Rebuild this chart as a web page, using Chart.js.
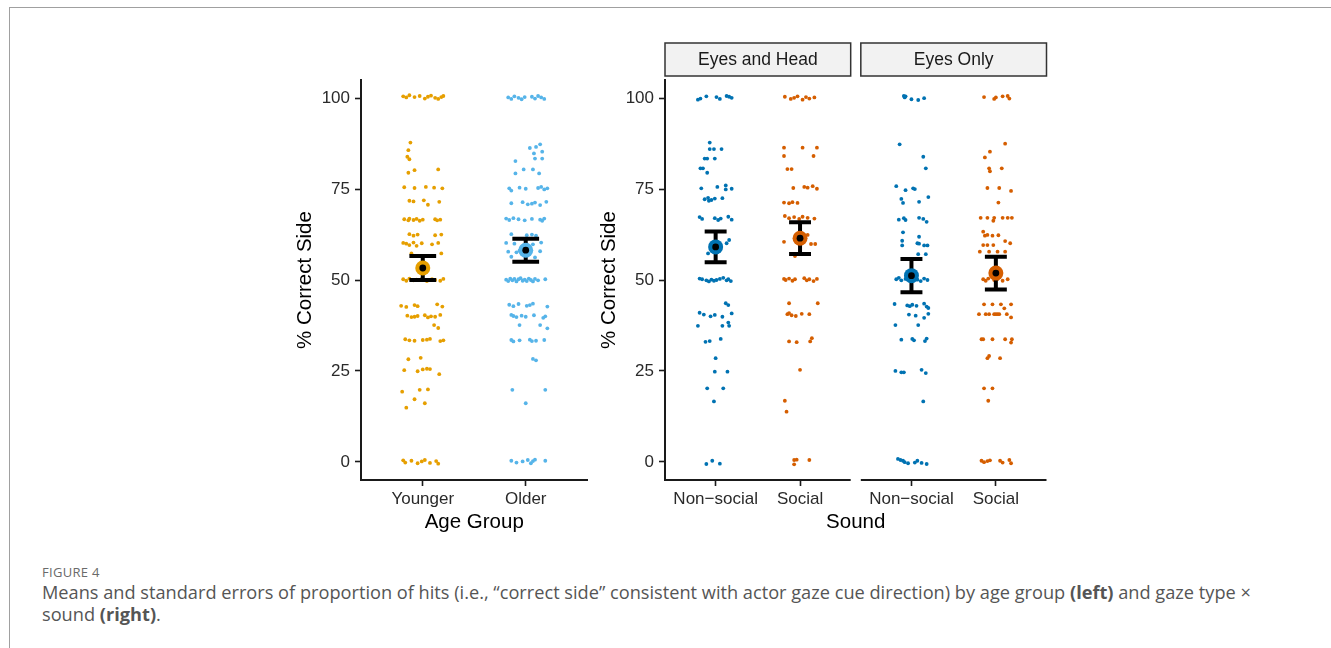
<!DOCTYPE html>
<html>
<head>
<meta charset="utf-8">
<script src="https://cdn.jsdelivr.net/npm/chart.js@4/dist/chart.umd.min.js"></script>
<style>
html,body{margin:0;padding:0;background:#fff;}
body{width:1331px;height:648px;overflow:hidden;position:relative;}
#frame{position:absolute;left:9px;top:7px;width:1400px;height:700px;border-left:1.5px solid #a0a0a0;border-top:1.5px solid #a0a0a0;}
#c1{position:absolute;left:280px;top:60px;}
#c2{position:absolute;left:584px;top:30px;}
#figlabel{position:absolute;left:42px;top:563px;font-family:'Open Sans','Noto Sans',sans-serif;font-size:13px;color:#6a6a6a;letter-spacing:0.3px;}
#caption{position:absolute;left:42px;top:581px;font-family:'Open Sans','Noto Sans',sans-serif;font-size:18.2px;line-height:22px;color:#555;white-space:nowrap;}
#caption b{color:#555;font-weight:700;}
</style>
</head>
<body>
<div id="frame"></div>
<canvas id="c1" width="315" height="480"></canvas>
<canvas id="c2" width="470" height="510"></canvas>
<div id="figlabel">FIGURE 4</div>
<div id="caption">Means and standard errors of proportion of hits (i.e., “correct side” consistent with actor gaze cue direction) by age group <b>(left)</b> and gaze type ×<br>sound <b>(right)</b>.</div>
<script>
// ---------- data ----------
const ageGroups = ['Younger', 'Older'];
const soundLevels = ['Non\u2212social', 'Social'];
const gazeTypes = ['Eyes and Head', 'Eyes Only'];
const yTickValues = [0, 25, 50, 75, 100];

const ageMeans = [53.3, 58.2];
const ageSE = [3.3, 3.15];
const eyesHeadMeans = [59.1, 61.5];
const eyesHeadSE = [4.25, 4.35];
const eyesOnlyMeans = [51.2, 51.9];
const eyesOnlySE = [4.6, 4.5];

// individual participants: [horizontal jitter, % correct side]
const youngerPts = [
 [-0.19,100.5],[-0.16,100.2],[-0.13,100.8],[-0.08,100.3],[-0.03,100.6],[0.02,99.9],[0.05,100.4],[0.08,100.7],[0.12,100.1],[0.15,99.8],[0.18,100.3],[0.20,100.6],
 [-0.12,87.8],[-0.14,85.7],[-0.15,83.9],[-0.13,83.2],[-0.14,79.5],[-0.08,80.2],[0.15,80.4],
 [-0.18,75.5],[-0.08,75.3],[0.03,75.6],[0.11,75.4],[0.19,75.2],
 [-0.13,71.8],[-0.09,71.6],[0.01,71.9],[0.05,70.7],[0.16,71.5],
 [-0.18,66.7],[-0.14,66.4],[-0.13,66.9],[-0.09,66.5],[-0.06,66.8],[-0.03,66.3],[0.00,66.6],[0.12,66.7],[0.14,66.4],[0.17,66.6],
 [-0.13,62.6],[-0.09,62.2],[-0.05,62.5],[0.12,62.3],[0.18,62.5],
 [-0.19,60.2],[-0.16,60.0],[-0.13,59.6],[-0.09,60.3],[-0.06,59.4],[-0.01,60.1],[0.09,59.8],[0.15,60.2],
 [-0.11,57.3],[0.18,57.3],
 [-0.19,50.2],[-0.16,49.8],[-0.13,50.4],[-0.09,49.9],[-0.06,50.1],[-0.01,50.3],[0.04,49.7],[0.09,50.2],[0.12,50.0],[0.17,49.8],[0.20,50.3],
 [-0.21,42.9],[-0.16,42.6],[-0.08,43.1],[-0.05,42.8],[0.14,43.3],[0.19,42.7],
 [-0.15,40.2],[-0.11,39.8],[-0.08,39.9],[-0.05,40.1],[0.02,40.3],[0.05,39.7],[0.08,40.0],[0.12,39.9],[0.17,40.4],
 [0.11,37.6],[0.15,36.8],
 [-0.17,33.7],[-0.13,33.4],[-0.08,33.3],[0.00,33.5],[0.04,33.6],[0.07,33.8],[0.17,33.2],[0.20,33.4],
 [-0.14,28.2],[-0.02,28.6],
 [-0.18,25.2],[-0.05,24.9],[0.00,25.4],[0.04,25.6],[0.07,25.5],[0.16,24.1],
 [-0.20,19.3],[-0.03,19.8],[0.05,19.9],
 [-0.08,17.2],[0.02,16.1],[-0.16,14.9],
 [-0.19,0.4],[-0.17,-0.2],[-0.11,0.3],[-0.05,-0.4],[-0.01,0.1],[0.02,0.5],[0.07,-0.3],[0.13,0.2],[0.15,-0.5]
];
const olderPts = [
 [-0.17,100.2],[-0.14,99.8],[-0.11,100.5],[-0.07,100.1],[-0.04,99.7],[-0.01,100.3],[0.06,100.4],[0.09,99.9],[0.12,100.6],[0.15,100.2],[0.18,99.8],
 [0.14,87.3],[0.04,86.3],[0.10,86.6],[0.16,85.3],[0.08,84.8],[0.09,83.4],[0.16,83.4],[-0.10,82.7],[-0.02,80.4],[0.07,80.4],[-0.10,79.3],[0.13,79.3],
 [-0.16,75.2],[-0.14,74.6],[-0.06,75.4],[0.00,75.1],[0.12,75.3],[0.15,75.6],[0.18,74.9],[0.21,75.2],
 [-0.14,71.1],[-0.03,71.4],[0.02,70.8],[0.06,71.0],[0.09,71.3],[0.14,70.6],[0.20,71.5],
 [-0.19,66.9],[-0.16,66.5],[-0.12,67.0],[-0.07,66.7],[-0.01,66.4],[0.06,66.8],[0.14,66.6],[0.16,66.3],[0.18,66.9],
 [-0.14,62.6],[0.01,62.3],[0.06,62.5],[0.10,62.2],
 [-0.19,60.2],[-0.11,60.0],[0.07,59.8],[0.15,60.3],
 [-0.17,57.8],[-0.09,57.6],[-0.06,58.1],[0.14,57.9],[-0.14,56.4],[0.09,56.2],
 [-0.19,50.1],[-0.17,49.7],[-0.15,50.4],[-0.13,49.9],[-0.11,50.3],[-0.09,49.6],[-0.07,50.2],[-0.05,50.5],[-0.03,49.8],[-0.01,50.1],[0.01,49.7],[0.03,50.4],[0.05,50.0],[0.07,49.6],[0.09,50.3],[0.12,49.9],[0.19,50.2],
 [-0.16,43.2],[-0.12,42.8],[-0.07,43.4],[0.01,42.9],[0.04,43.1],[0.07,43.5],[0.21,42.7],
 [-0.14,40.4],[-0.12,40.1],[-0.09,39.8],[-0.04,40.2],[0.00,39.9],[0.08,40.3],[0.17,39.6],[0.19,40.0],
 [-0.06,37.6],[0.14,37.6],[0.21,36.7],
 [-0.14,33.5],[-0.12,33.1],[-0.06,33.4],[0.04,33.6],[0.06,33.2],[0.10,33.3],[0.18,33.5],
 [0.07,28.3],[0.10,27.9],
 [-0.13,19.8],[0.19,19.8],[0.00,16.1],
 [-0.14,0.3],[-0.09,-0.2],[-0.03,0.1],[0.02,0.5],[0.05,-0.4],[0.07,0.2],[0.09,0.6],[0.19,0.3]
];
const eyesHeadNonSocialPts = [
 [-0.21,99.6],[-0.18,99.9],[-0.11,100.5],[0.01,100.3],[0.05,99.8],[0.13,100.6],[0.16,100.4],[0.19,100.1],
 [-0.07,87.8],[-0.07,86.0],[-0.02,86.0],[0.07,86.0],[-0.13,83.4],[-0.10,83.4],[-0.01,83.4],[-0.18,80.7],[-0.15,80.7],[-0.10,79.5],
 [-0.17,75.2],[0.02,75.6],[0.12,76.0],[0.12,74.9],[0.19,75.1],
 [-0.13,72.2],[-0.09,72.6],[-0.05,72.0],[-0.01,72.4],[0.08,72.5],[-0.08,71.8],
 [-0.19,67.3],[-0.16,66.8],[-0.01,67.0],[0.03,66.5],[0.06,66.9],[0.15,67.4],[0.19,66.6],
 [0.13,60.1],[0.16,61.0],[-0.09,57.3],
 [-0.19,50.4],[-0.16,50.2],[-0.11,49.9],[-0.08,49.6],[-0.05,50.1],[-0.02,49.8],[0.01,50.0],[0.05,50.3],[0.09,50.6],[0.13,49.9],[0.15,50.2],[0.18,49.7],
 [0.12,43.6],[0.15,43.1],
 [-0.19,41.0],[-0.14,40.5],[-0.06,40.0],[-0.01,40.4],[0.08,39.9],[0.19,40.8],
 [0.15,38.3],[-0.21,37.4],[0.08,37.4],[0.16,37.4],
 [-0.12,33.0],[-0.07,33.2],[0.06,33.8],
 [0.00,28.5],[-0.01,24.8],[0.14,24.8],[-0.10,20.2],[0.09,20.2],[-0.02,16.6],
 [-0.11,-0.6],[-0.04,0.3],[0.05,-0.5]
];
const eyesHeadSocialPts = [
 [-0.18,100.4],[-0.11,99.8],[-0.07,100.1],[-0.03,100.5],[0.03,99.6],[0.07,100.3],[0.11,99.9],[0.17,100.2],
 [-0.19,86.4],[0.03,86.4],[0.20,86.4],[-0.19,84.1],[0.16,84.1],[-0.15,80.5],[-0.10,80.5],
 [-0.08,75.3],[0.05,75.6],[0.09,75.4],[0.15,75.8],[0.20,75.1],
 [-0.19,71.3],[-0.13,71.1],[-0.09,71.4],[-0.03,71.2],
 [-0.18,67.6],[-0.13,67.0],[-0.07,67.3],[-0.01,66.8],[0.03,67.4],[0.09,67.1],[0.17,66.9],
 [0.09,62.4],[-0.19,60.5],[0.13,59.9],[0.18,59.9],[-0.06,56.6],
 [-0.19,50.3],[-0.17,50.0],[-0.13,50.4],[-0.09,49.8],[-0.06,50.2],[0.05,50.5],[0.08,49.9],[0.11,50.2],[0.16,49.7],[0.20,50.3],
 [-0.13,43.6],[0.21,43.6],
 [-0.15,40.6],[-0.13,40.9],[-0.10,40.3],[-0.05,40.1],[0.02,40.7],[0.11,40.6],
 [-0.13,33.1],[-0.04,32.9],[0.12,33.1],[0.14,34.0],
 [0.00,25.3],[-0.18,16.8],[-0.16,13.8],
 [-0.07,0.5],[-0.04,0.6],[0.11,0.5],[-0.07,-0.7]
];
const eyesOnlyNonSocialPts = [
 [-0.09,100.6],[-0.08,100.2],[-0.07,100.5],[0.00,99.7],[0.08,99.5],[0.15,100.0],
 [-0.14,87.3],[0.14,83.9],[0.17,80.7],
 [-0.18,75.8],[-0.07,74.7],[0.02,75.2],[0.04,75.0],
 [-0.12,72.3],[-0.10,71.2],[0.09,71.5],[0.20,72.8],
 [-0.15,66.6],[-0.09,67.0],[-0.07,66.5],[0.09,67.1],[0.14,66.8],[0.18,66.0],
 [-0.10,63.1],[0.09,61.9],[-0.11,60.8],[0.07,60.1],[0.09,60.0],[-0.11,59.5],[0.15,59.5],[0.19,59.5],[0.08,57.1],[0.17,57.1],
 [-0.18,50.2],[-0.15,50.6],[-0.12,49.9],[-0.07,50.3],[0.07,50.1],[0.11,49.7],[0.15,50.4],[0.19,50.0],
 [-0.20,43.4],[-0.05,43.0],[-0.02,42.8],[0.01,43.2],[0.06,42.9],[0.15,43.5],[0.18,42.7],[0.20,42.3],
 [-0.03,40.5],[0.05,40.2],[0.15,39.6],[0.20,40.7],
 [-0.19,37.6],[0.08,37.6],
 [-0.12,33.6],[0.01,33.8],[0.03,33.4],[0.16,33.2],[0.18,33.9],
 [-0.19,25.0],[-0.12,24.6],[-0.09,24.6],[0.12,25.3],[0.17,24.4],
 [0.14,16.6],
 [-0.16,0.8],[-0.13,0.5],[-0.10,0.3],[-0.08,-0.1],[-0.04,-0.4],[0.04,-0.2],[0.07,0.3],[0.12,-0.3],[0.18,-0.6]
];
const eyesOnlySocialPts = [
 [-0.14,100.3],[-0.02,99.8],[0.00,100.2],[0.08,100.5],[0.14,100.6],[0.16,99.9],
 [0.11,87.5],[-0.07,85.3],[-0.13,83.7],
 [-0.08,80.7],[-0.07,79.9],[0.07,80.7],
 [-0.10,75.3],[0.04,75.3],[0.18,74.5],[0.03,71.3],
 [-0.18,67.1],[-0.10,67.1],[-0.02,67.1],[0.08,67.1],[0.14,67.1],[0.19,67.1],[-0.03,66.3],
 [-0.15,63.3],[-0.13,62.2],[-0.10,62.4],[-0.04,62.2],[0.03,62.3],[0.11,60.7],[0.17,60.1],
 [-0.15,59.6],[-0.10,59.6],[-0.03,59.6],
 [-0.19,57.8],[-0.08,57.8],[0.02,57.8],[0.11,57.8],
 [-0.15,50.2],[-0.12,49.8],[-0.09,50.4],[-0.02,50.0],[0.02,50.3],[0.08,49.8],[0.14,50.2],
 [-0.14,43.3],[-0.04,43.3],[0.06,43.3],[0.18,43.3],[0.10,42.2],
 [-0.20,40.6],[-0.12,40.6],[-0.08,40.6],[-0.02,40.6],[0.00,40.6],[0.02,40.6],[0.04,40.6],[0.13,40.6],[0.18,39.7],
 [-0.17,33.7],[-0.15,33.7],[-0.04,33.7],[0.11,33.7],[0.19,33.7],[0.18,32.8],
 [-0.08,29.1],[-0.10,28.5],[0.05,28.5],
 [-0.14,20.2],[-0.04,20.2],[-0.09,16.8],
 [-0.17,0.3],[-0.14,-0.1],[-0.10,0.2],[-0.07,0.4],[0.05,0.3],[0.08,-0.2],[0.16,0.5],[0.18,-0.4]
];

// ---------- styling ----------
const FONT = "'Liberation Sans', Arial, Helvetica, sans-serif";
const INK = '#1a1a1a';
const ageColors = ['#E69F00', '#56B4E9'];
const soundColors = ['#0072B2', '#D55E00'];
const facetStart = [1, 3.32];   // x position of first level in each facet

function jitterSet(pts, base, color) {
  return { data: pts.map(p => ({ x: base + p[0], y: p[1] })), backgroundColor: color, borderWidth: 0,
           pointRadius: 1.9, pointHoverRadius: 1.9, order: 4 };
}
function errorBarSet(xc, mean, se, halfW) {
  const lo = mean - se, hi = mean + se;
  return { data: [ {x:xc,y:lo},{x:xc,y:hi},{x:xc,y:null},
                   {x:xc-halfW,y:hi},{x:xc+halfW,y:hi},{x:xc,y:null},
                   {x:xc-halfW,y:lo},{x:xc+halfW,y:lo} ],
           showLine: true, spanGaps: false, borderColor: '#000', borderWidth: 4, borderCapStyle: 'butt',
           pointRadius: 0, pointHoverRadius: 0, order: 3 };
}
function meanSets(xc, mean, color) {
  return [
    { data: [{x:xc,y:mean}], backgroundColor: color, borderWidth: 0, pointRadius: 7.5, pointHoverRadius: 7.5, order: 2 },
    { data: [{x:xc,y:mean}], backgroundColor: '#000', borderWidth: 0, pointRadius: 3.4, pointHoverRadius: 3.4, order: 1 }
  ];
}

function yAxis() {
  return {
    type: 'linear', min: -5, max: 105,
    afterBuildTicks: s => { s.ticks = yTickValues.map(v => ({ value: v })); },
    afterFit: s => { s.width = 81; },
    ticks: { font: { family: FONT, size: 17 }, color: '#2a2a2a', padding: 5 },
    grid: { display: true, drawOnChartArea: false, drawTicks: true, tickLength: 6, tickColor: INK, tickWidth: 1.6 },
    border: { display: true, color: INK, width: 2 },
    title: { display: true, text: '% Correct Side', font: { family: FONT, size: 20.5 }, color: '#000', padding: { top: 13, bottom: 0 } }
  };
}
function xAxis(min, max, positions, labels, title, showBorder) {
  return {
    type: 'linear', min: min, max: max,
    afterBuildTicks: s => { s.ticks = positions.map(v => ({ value: v })); },
    afterFit: s => { s.height = 60; },
    ticks: { autoSkip: false, maxRotation: 0, font: { family: FONT, size: 17 }, color: '#2a2a2a', padding: 3,
             callback: (v, i) => labels[i] },
    grid: { display: true, drawOnChartArea: false, drawTicks: true, tickLength: 6, tickColor: INK, tickWidth: 1.6 },
    border: { display: showBorder, color: INK, width: 2 },
    title: { display: true, text: title, font: { family: FONT, size: 20.5 }, color: '#000', padding: { top: 0, bottom: 5 } }
  };
}
const baseOpts = {
  responsive: false, animation: false, devicePixelRatio: 1, events: [],
  plugins: { legend: { display: false }, tooltip: { enabled: false } }
};

// ---------- left panel: age group ----------
const leftSets = [];
[youngerPts, olderPts].forEach((pts, g) => {
  leftSets.push(jitterSet(pts, g + 1, ageColors[g]));
  leftSets.push(errorBarSet(g + 1, ageMeans[g], ageSE[g], 0.13));
  leftSets.push(...meanSets(g + 1, ageMeans[g], ageColors[g]));
});
new Chart(document.getElementById('c1'), {
  type: 'scatter',
  data: { datasets: leftSets },
  options: Object.assign({}, baseOpts, {
    layout: { padding: { top: 20, right: 2, left: 0, bottom: 0 } },
    scales: { x: xAxis(0.4, 2.6, [1, 2], ageGroups, 'Age Group', true), y: yAxis() }
  })
});

// ---------- right panel: gaze type x sound ----------
const rightSets = [];
const facetPts = [[eyesHeadNonSocialPts, eyesHeadSocialPts], [eyesOnlyNonSocialPts, eyesOnlySocialPts]];
const facetMeans = [eyesHeadMeans, eyesOnlyMeans];
const facetSE = [eyesHeadSE, eyesOnlySE];
const rightPositions = [], rightLabels = [];
facetPts.forEach((pair, f) => {
  pair.forEach((pts, s) => {
    const xc = facetStart[f] + s;
    rightPositions.push(xc); rightLabels.push(soundLevels[s]);
    rightSets.push(jitterSet(pts, xc, soundColors[s]));
    rightSets.push(errorBarSet(xc, facetMeans[f][s], facetSE[f][s], 0.13));
    rightSets.push(...meanSets(xc, facetMeans[f][s], soundColors[s]));
  });
});
const facetDecor = {
  id: 'facetDecor',
  afterDraw(chart) {
    const { ctx, chartArea, scales } = chart;
    const x = scales.x;
    facetStart.forEach((st, f) => {
      const x0 = x.getPixelForValue(st - 0.6), x1 = x.getPixelForValue(st + 1.6);
      ctx.save();
      ctx.strokeStyle = INK; ctx.lineWidth = 2;
      ctx.beginPath(); ctx.moveTo(x0 - (f === 0 ? 1 : 0), chartArea.bottom); ctx.lineTo(x1, chartArea.bottom); ctx.stroke();
      const top = chartArea.top - 37, h = 33;
      ctx.fillStyle = '#f2f2f2'; ctx.fillRect(x0, top, x1 - x0, h);
      ctx.strokeStyle = '#333'; ctx.lineWidth = 1.5; ctx.strokeRect(x0, top, x1 - x0, h);
      ctx.fillStyle = '#1a1a1a'; ctx.font = '17.5px ' + FONT; ctx.textAlign = 'center'; ctx.textBaseline = 'middle';
      ctx.fillText(gazeTypes[f], (x0 + x1) / 2, top + h / 2 + 1);
      ctx.restore();
    });
  }
};
new Chart(document.getElementById('c2'), {
  type: 'scatter',
  data: { datasets: rightSets },
  options: Object.assign({}, baseOpts, {
    layout: { padding: { top: 50, right: 4, left: 0, bottom: 0 } },
    scales: { x: xAxis(0.4, 4.92, rightPositions, rightLabels, 'Sound', false), y: yAxis() }
  }),
  plugins: [facetDecor]
});
</script>
</body>
</html>
